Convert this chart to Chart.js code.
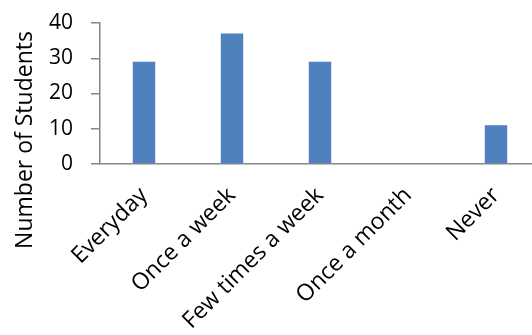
<!DOCTYPE html>
<html>
<head>
<meta charset="utf-8">
<script src="https://cdn.jsdelivr.net/npm/chart.js@4"></script>
<style>
  html, body { margin: 0; padding: 0; background: #fff; overflow: hidden; }
  #wrap { position: relative; width: 532px; height: 335px; overflow: hidden; }
  #chart { position: absolute; left: 0; top: 0; }
</style>
</head>
<body>
<div id="wrap"><canvas id="chart" width="540" height="335"></canvas></div>
<script>
const categories = ['Everyday', 'Once a week', 'Few times a week', 'Once a month', 'Never'];
const students = [29, 37, 29, 0, 11];
const yTicks = [0, 10, 20, 30, 40];
const yTitle = 'Number of Students';

const axisGrey = '#868686';
const fontFamily = '"Open Sans", "Liberation Sans", sans-serif';

// rotated y-axis title, centred lower than the plot like the spreadsheet layout
const sideTitle = {
  id: 'sideTitle',
  afterDraw(chart) {
    const ctx = chart.ctx;
    ctx.save();
    ctx.translate(25, 140);
    ctx.rotate(-Math.PI / 2);
    ctx.font = '23px ' + fontFamily;
    ctx.fillStyle = '#000';
    ctx.textAlign = 'center';
    ctx.textBaseline = 'middle';
    ctx.fillText(yTitle, 0, 0);
    ctx.restore();
  }
};

new Chart(document.getElementById('chart'), {
  type: 'bar',
  data: {
    labels: categories,
    datasets: [{
      data: students,
      backgroundColor: '#4F81BD',
      borderWidth: 0,
      categoryPercentage: 1,
      barPercentage: 0.255
    }]
  },
  options: {
    responsive: false,
    animation: false,
    layout: { padding: { top: 23, right: 0, left: 0, bottom: 0 } },
    plugins: { legend: { display: false }, tooltip: { enabled: false } },
    scales: {
      x: {
        offset: true,
        grid: { display: false, drawTicks: false },
        border: { display: true, color: axisGrey, width: 1.5 },
        ticks: {
          color: '#000',
          font: { family: fontFamily, size: 23 },
          minRotation: 45,
          maxRotation: 45,
          padding: 18,
          autoSkip: false
        },
        afterFit: s => { s.height = 171; }
      },
      y: {
        min: 0,
        max: 40,
        grid: { drawOnChartArea: false, drawTicks: true, tickLength: 9, color: axisGrey, lineWidth: 1.5 },
        border: { display: true, color: axisGrey, width: 1.5 },
        afterBuildTicks: s => { s.ticks = yTicks.map(v => ({ value: v })); },
        ticks: {
          color: '#000',
          font: { family: fontFamily, size: 21 },
          padding: 18
        },
        // fixed axis width; the label padding should not push the plot down
        afterFit: s => { s.width = 100; s.paddingTop = 0; s.paddingBottom = 0; }
      }
    }
  },
  plugins: [sideTitle]
});
</script>
</body>
</html>
